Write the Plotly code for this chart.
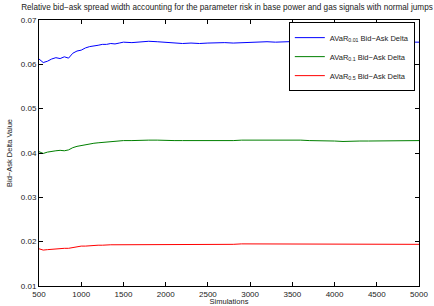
import plotly.graph_objects as go

simulations = [500, 550, 600, 650, 700, 750, 800, 850, 900, 950, 1000, 1050, 1100, 1150, 1200,
               1250, 1300, 1350, 1400, 1450, 1500, 1600, 1700, 1800, 1900, 2000, 2100, 2200,
               2300, 2400, 2500, 2600, 2700, 2800, 2900, 3000, 3100, 3200, 3300, 3400, 3500,
               3600, 3700, 3800, 3900, 4000, 4100, 4200, 4300, 4400, 4500, 4600, 4700, 4800,
               4900, 5000]

avar_001 = [0.0612, 0.0604, 0.0607, 0.0612, 0.0615, 0.0613, 0.0617, 0.0614, 0.0625, 0.0630,
            0.0632, 0.0637, 0.0640, 0.0641, 0.0643, 0.0645, 0.0645, 0.0647, 0.0646, 0.0648,
            0.0650, 0.0649, 0.0651, 0.0652, 0.0651, 0.0650, 0.0648, 0.0647, 0.0648, 0.0647,
            0.0648, 0.0649, 0.0649, 0.0648, 0.0649, 0.0650, 0.0650, 0.0651, 0.0650, 0.0651,
            0.0652, 0.0652, 0.0651, 0.0651, 0.0650, 0.0650, 0.0651, 0.0651, 0.0650, 0.0650,
            0.0651, 0.0651, 0.0650, 0.0650, 0.0650, 0.0650]

avar_01 = [0.0403, 0.0399, 0.0402, 0.0404, 0.0405, 0.0406, 0.0405, 0.0407, 0.0412, 0.0415,
           0.0417, 0.0419, 0.0421, 0.0422, 0.0423, 0.0424, 0.0425, 0.0426, 0.0426, 0.0427,
           0.0428, 0.0428, 0.0429, 0.0429, 0.0429, 0.0428, 0.0428, 0.0428, 0.0428, 0.0427,
           0.0428, 0.0428, 0.0428, 0.0428, 0.0429, 0.0429, 0.0429, 0.0430, 0.0430, 0.0429,
           0.0429, 0.0429, 0.0428, 0.0428, 0.0427, 0.0427, 0.0426, 0.0427, 0.0427, 0.0427,
           0.0427, 0.0427, 0.0428, 0.0428, 0.0428, 0.0428]

avar_05 = [0.0184, 0.0181, 0.0182, 0.0183, 0.0184, 0.0184, 0.0185, 0.0185, 0.0187, 0.0189,
           0.0190, 0.0190, 0.0191, 0.0191, 0.0192, 0.0192, 0.0193, 0.0193, 0.0193, 0.0193,
           0.0194, 0.0194, 0.0194, 0.0194, 0.0194, 0.0194, 0.0194, 0.0194, 0.0194, 0.0194,
           0.0194, 0.0194, 0.0194, 0.0194, 0.0195, 0.0195, 0.0195, 0.0195, 0.0195, 0.0195,
           0.0195, 0.0195, 0.0195, 0.0195, 0.0194, 0.0194, 0.0194, 0.0194, 0.0194, 0.0194,
           0.0194, 0.0194, 0.0194, 0.0194, 0.0194, 0.0194]

x_ticks = [500, 1000, 1500, 2000, 2500, 3000, 3500, 4000, 4500, 5000]
y_ticks = [0.01, 0.02, 0.03, 0.04, 0.05, 0.06, 0.07]
y_tick_labels = ["0.01", "0.02", "0.03", "0.04", "0.05", "0.06", "0.07"]

names = ["AVaR<sub>0.01</sub> Bid\u2212Ask Delta",
         "AVaR<sub>0.1</sub> Bid\u2212Ask Delta",
         "AVaR<sub>0.5</sub> Bid\u2212Ask Delta"]
colors = ["#0000ff", "#007f00", "#ff0000"]

fig = go.Figure()
for ys, nm, c in zip([avar_001, avar_01, avar_05], names, colors):
    fig.add_trace(go.Scatter(x=simulations, y=ys, mode="lines", name=nm,
                             line=dict(color=c, width=1)))

axis_common = dict(showline=True, linecolor="black", linewidth=1, mirror="ticks",
                   ticks="inside", ticklen=4, tickcolor="black", showgrid=False,
                   zeroline=False, automargin=False, tickfont=dict(size=8, color="#222"))

fig.update_layout(
    width=434, height=306,
    margin=dict(l=39, r=15, t=20, b=20),
    paper_bgcolor="white", plot_bgcolor="white",
    font=dict(family="Liberation Sans, Arial, sans-serif", size=8, color="#222"),
    title=dict(text="Relative bid\u2212ask spread width accounting for the parameter risk in base power and gas signals with normal jumps",
               x=0.523, xanchor="center", xref="container", y=0.977, yanchor="middle", yref="container",
               automargin=False, font=dict(size=8.2)),
    xaxis=dict(range=[500, 5000], tickvals=x_ticks, ticktext=[str(v) for v in x_ticks],
               title=dict(text="Simulations", standoff=6, font=dict(size=7.5)), **axis_common),
    yaxis=dict(range=[0.01, 0.07], tickvals=y_ticks, ticktext=y_tick_labels,
               title=dict(text="Bid\u2212Ask Delta Value", standoff=7, font=dict(size=7.5)), **axis_common),
    legend=dict(x=0.989, y=0.992, xanchor="right", yanchor="top", bgcolor="white",
                bordercolor="black", borderwidth=1, font=dict(size=7.5),
                tracegroupgap=0, itemwidth=30),
    showlegend=True,
)

fig.write_html("out.html", config={"displayModeBar": False},
               post_script="document.body.style.margin='0';")
